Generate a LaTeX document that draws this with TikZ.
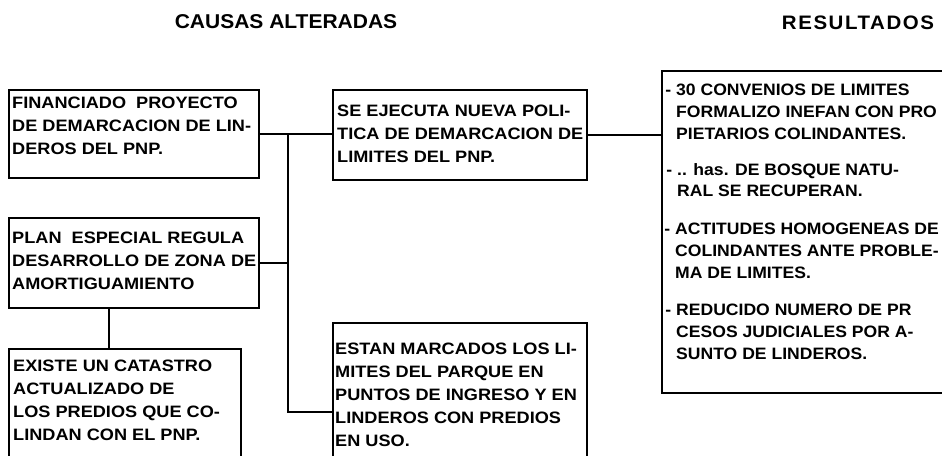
\documentclass[tikz,border=0pt]{standalone}
\usepackage{fontspec}
\setmainfont{Liberation Sans}
\newfontfamily\bodyf[FakeStretch=1.1]{Liberation Sans}
\newfontfamily\resf[FakeStretch=1.065]{Liberation Sans}
\newfontfamily\titlef[FakeStretch=1.05]{Liberation Sans}
\newfontfamily\titleg[FakeStretch=1.05,LetterSpace=8]{Liberation Sans}
\begin{document}
\begin{tikzpicture}[x=1pt,y=-1pt,
  box/.style={draw,line width=1.5pt,anchor=north west,inner sep=0pt},
  txt/.style={anchor=north west,inner sep=0pt,align=left,
    font=\bodyf\bfseries\fontsize{16.5}{23}\selectfont},
  rtxt/.style={anchor=north west,inner sep=0pt,align=left,
    font=\resf\bfseries\fontsize{16.5}{21.8}\selectfont},
  conn/.style={line width=1.5pt}]
\useasboundingbox (0,0) rectangle (942,455);
% titles
\node[font=\titlef\bfseries\fontsize{20}{22}\selectfont] (h1) at (286,22) {CAUSAS ALTERADAS};
\node[font=\titleg\bfseries\fontsize{19.5}{22}\selectfont] (h2) at (858,23) {RESULTADOS};
% boxes
\node[box,minimum width=250pt,minimum height=88pt] (b1) at (8,89) {};
\node[box,minimum width=250pt,minimum height=90pt] (b2) at (8,217) {};
\node[box,minimum width=232pt,minimum height=130pt] (b3) at (8,348) {};
\node[box,minimum width=254pt,minimum height=90pt] (b4) at (332,89) {};
\node[box,minimum width=254pt,minimum height=150pt] (b5) at (332,322) {};
\node[box,minimum width=300pt,minimum height=322pt] (b6) at (661,70) {};
% texts
\node[txt] (t1) at (12,97) {FINANCIADO\ \ PROYECTO\\DE DEMARCACION DE LIN-\\DEROS DEL PNP.};
\node[txt] (t2) at (12,232) {PLAN\ \ ESPECIAL REGULA\\DESARROLLO DE ZONA DE\\AMORTIGUAMIENTO};
\node[txt] (t3) at (13,360) {EXISTE UN CATASTRO\\ACTUALIZADO DE\\LOS PREDIOS QUE CO-\\LINDAN CON EL PNP.};
\node[txt] (t4) at (337,105) {SE EJECUTA NUEVA POLI-\\TICA DE DEMARCACION DE\\LIMITES DEL PNP.};
\node[txt] (t5) at (335,343) {ESTAN MARCADOS LOS LI-\\MITES DEL PARQUE EN\\PUNTOS DE INGRESO Y EN\\LINDEROS CON PREDIOS\\EN USO.};
\node[rtxt] (r1) at (676,84) {\llap{- }30 CONVENIOS DE LIMITES\\FORMALIZO INEFAN CON PRO\\PIETARIOS COLINDANTES.};
\node[rtxt] (r2) at (677,163) {\llap{- }.. has. DE BOSQUE NATU-\\RAL SE RECUPERAN.};
\node[rtxt] (r3) at (675,223) {\llap{- }ACTITUDES HOMOGENEAS DE\\COLINDANTES ANTE PROBLE-\\MA DE LIMITES.};
\node[rtxt] (r4) at (676,304) {\llap{- }REDUCIDO NUMERO DE PR\\CESOS JUDICIALES POR A-\\SUNTO DE LINDEROS.};
% connectors
\coordinate (j1) at (288,134);
\coordinate (j2) at (288,412);
\draw[conn] (b1.east |- j1) -- (b4.west |- j1);
\draw[conn] (j1) -- (j2) -- (j2 -| b5.west);
\draw[conn] (b2.east) -- (b2.east -| j1);
\draw[conn] ([xshift=-25pt]b2.south) -- ([xshift=-25pt]b2.south |- b3.north);
\draw[conn] (b4.east |- 0,135) -- (b6.west |- 0,135);
\end{tikzpicture}
\end{document}
